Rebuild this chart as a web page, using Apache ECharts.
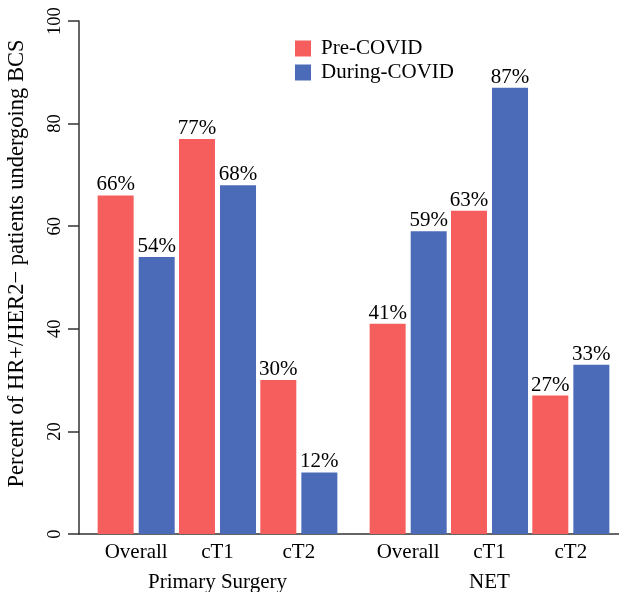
<!DOCTYPE html>
<html>
<head>
<meta charset="utf-8">
<script src="https://cdn.jsdelivr.net/npm/echarts@6/dist/echarts.min.js"></script>
<style>html,body{margin:0;padding:0;background:#fff;}#c{width:619px;height:592px;}</style>
</head>
<body>
<div id="c"></div>
<script>
const categories = ['Overall', 'cT1', 'cT2'];
const groupNames = ['Primary Surgery', 'NET'];
const preCovidSurgery = [66, 77, 30];
const duringCovidSurgery = [54, 68, 12];
const preCovidNET = [41, 63, 27];
const duringCovidNET = [59, 87, 33];
const yTicks = [0, 20, 40, 60, 80, 100];

const RED = '#F65D5D', BLUE = '#4B6BB8';
const FONT = 'Liberation Serif';
const chart = echarts.init(document.getElementById('c'));

function catAxis(gi, name) {
  return {
    type: 'category', gridIndex: gi, data: categories,
    axisLine: {show: false}, axisTick: {show: false},
    axisLabel: {interval: 0, fontFamily: FONT, fontSize: 21, color: '#000', margin: 8},
    name: name, nameLocation: 'middle', nameGap: 38,
    nameTextStyle: {fontFamily: FONT, fontSize: 21, color: '#000'}
  };
}
function hiddenY(gi) {
  return {type: 'value', gridIndex: gi, min: 0, max: 100, interval: 20, show: false};
}
function bar(name, data, color, gi) {
  return {
    name: name, type: 'bar', data: data, xAxisIndex: gi, yAxisIndex: gi,
    barWidth: 36, barGap: '14%', itemStyle: {color: color},
    label: {show: true, position: 'top', distance: 0, formatter: '{c}%',
      fontFamily: FONT, fontSize: 21, color: '#000'}
  };
}

chart.setOption({
  animation: false,
  legend: {
    orient: 'vertical', left: 295, top: 38, padding: 0, itemWidth: 16, itemHeight: 16, itemGap: 3,
    icon: 'rect', data: ['Pre-COVID', 'During-COVID'],
    textStyle: {fontFamily: FONT, fontSize: 21, lineHeight: 21, color: '#000', padding: [0, 0, 0, 5]}
  },
  grid: [
    {left: 95.5, width: 244, top: 21, height: 513, outerBoundsMode: 'none', containLabel: false},
    {left: 367.5, width: 244, top: 21, height: 513, outerBoundsMode: 'none', containLabel: false},
    {left: 79, right: 0, top: 21, height: 513, outerBoundsMode: 'none', containLabel: false}
  ],
  xAxis: [
    catAxis(0, groupNames[0]),
    catAxis(1, groupNames[1]),
    {type: 'value', gridIndex: 2, min: 0, max: 1,
      axisLine: {show: true, lineStyle: {color: '#333', width: 1.5}},
      axisTick: {show: false}, axisLabel: {show: false}, splitLine: {show: false}}
  ],
  yAxis: [
    hiddenY(0), hiddenY(1),
    {type: 'value', gridIndex: 2, min: yTicks[0], max: yTicks[yTicks.length - 1], interval: 20,
      axisLine: {show: true, lineStyle: {color: '#333', width: 1.5}},
      axisTick: {show: true, length: 11, lineStyle: {color: '#333', width: 1.5}},
      axisLabel: {rotate: 90, margin: 14, fontFamily: FONT, fontSize: 18.5, color: '#000'},
      splitLine: {show: false},
      name: 'Percent of HR+/HER2\u2212 patients undergoing BCS',
      nameLocation: 'middle', nameGap: 50,
      nameTextStyle: {fontFamily: FONT, fontSize: 22.5, color: '#000', padding: [0, 0, 0, 28]}}
  ],
  series: [
    bar('Pre-COVID', preCovidSurgery, RED, 0),
    bar('During-COVID', duringCovidSurgery, BLUE, 0),
    bar('Pre-COVID', preCovidNET, RED, 1),
    bar('During-COVID', duringCovidNET, BLUE, 1)
  ]
});
</script>
</body>
</html>
